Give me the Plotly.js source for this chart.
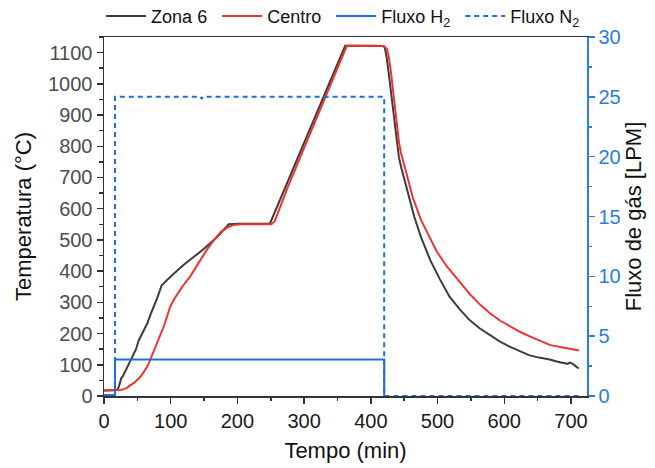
<!DOCTYPE html>
<html>
<head>
<meta charset="utf-8">
<script src="https://cdn.plot.ly/plotly-3.0.1.min.js"></script>
<style>html,body{margin:0;padding:0;background:#fff;}#chart{width:655px;height:468px;}</style>
</head>
<body>
<div id="chart"></div>
<script>
// Zona 6 (time in min, temperature in °C)
var zonaT = [0, 10, 20, 22, 24, 26, 28, 31, 34, 37, 40, 44, 48, 52, 56, 60, 65, 70, 75, 80, 86.5, 100, 120, 149, 170, 187, 200, 220, 248, 249.5, 274, 300, 330, 361.5, 380, 400, 419, 421, 424, 427, 430, 433, 436, 439, 442, 446, 452, 458, 465, 475, 489, 503, 518, 533, 548, 563, 578, 593, 608, 623, 637, 652, 668, 680, 690, 695, 698, 702, 705, 711.5];
var zonaV = [18, 18, 19, 28, 40, 58, 62, 75, 92, 102, 118, 130, 150, 178, 195, 215, 233, 262, 286, 315, 355, 383, 421, 470, 510, 550, 552, 552, 552, 556, 680, 811, 963, 1122, 1122, 1122, 1121, 1115, 1080, 1030, 975, 915, 855, 800, 765, 728, 677, 625, 575, 510, 435, 376, 318, 278, 243, 217, 195, 175, 158, 144, 131, 123, 117, 110, 104, 103, 107, 104, 99, 88];

// Centro
var centroT = [0, 10, 20, 25, 30, 35, 39, 45, 50, 54, 60, 65, 69, 75, 80, 84, 90, 95, 99, 105, 110, 114, 120, 129, 140, 154, 165, 175, 185, 195, 205, 230, 251, 256, 274, 300, 330, 364, 400, 419, 424, 427, 430, 433, 436, 439, 442, 445, 449, 455, 463, 475, 488, 499, 514, 534, 549, 564, 579, 594, 609, 624, 639, 654, 669, 684, 698, 712];
var centroV = [17.5, 17.5, 18, 19, 22, 27, 34, 42, 52, 60, 78, 95, 114, 145, 170, 189, 225, 258, 285, 310, 328, 339, 358, 382, 420, 468, 500, 525, 540, 548, 550, 550, 550, 560, 661, 795, 950, 1122, 1122, 1121, 1112, 1085, 1040, 985, 925, 865, 815, 780, 745, 700, 635, 565, 509, 462, 415, 365, 325, 292, 264, 241, 222, 205, 190, 176, 163, 157, 152, 146];

// Fluxo H2 (LPM)
var h2T = [0, 16.5, 16.5, 420, 420];
var h2V = [0.08, 0.08, 3.05, 3.05, 0];

// Fluxo N2 (LPM)
var n2T = [0, 16.5, 16.5, 145, 146.5, 148, 420, 420, 712];
var n2V = [0, 0, 25, 25, 24.8, 25, 25, 0, 0];

var blue = '#1e6fdc';
var axisBlue = '#2a7de1';
var dark = '#333333';
var nb = '\u00a0';

var traces = [
  {x: zonaT, y: zonaV, type: 'scatter', mode: 'lines', name: 'Zona 6' + nb,
   line: {color: '#3c3c3c', width: 2}},
  {x: centroT, y: centroV, type: 'scatter', mode: 'lines', name: 'Centro' + nb,
   line: {color: '#ee3333', width: 2}},
  {x: h2T, y: h2V, type: 'scatter', mode: 'lines', name: 'Fluxo H<sub>2</sub>' + nb, yaxis: 'y2',
   line: {color: blue, width: 2}},
  {x: n2T, y: n2V, type: 'scatter', mode: 'lines', name: 'Fluxo N<sub>2</sub>', yaxis: 'y2',
   line: {color: blue, width: 2, dash: '5px,4px'}}
];

var layout = {
  width: 655, height: 468,
  margin: {l: 104, r: 68, t: 37, b: 72, autoexpand: false},
  paper_bgcolor: '#ffffff', plot_bgcolor: '#ffffff',
  font: {family: 'Liberation Sans, Arial, sans-serif', color: '#111'},
  showlegend: true,
  legend: {orientation: 'h', x: -0.006, xanchor: 'left', y: 1.058, yanchor: 'middle',
           font: {size: 18, color: '#111'}, bgcolor: 'rgba(0,0,0,0)', itemwidth: 40, tracegroupgap: 0},
  xaxis: {
    range: [0, 724], dtick: 100, tick0: 0,
    ticks: 'outside', ticklen: 6, tickwidth: 1.5, tickcolor: dark,
    showline: true, linecolor: dark, linewidth: 1.5, mirror: true,
    showgrid: false, zeroline: false,
    minor: {ticks: 'outside', dtick: 50, ticklen: 3.5, tickwidth: 1.5, tickcolor: dark},
    tickfont: {size: 20, color: '#1a1a1a'},
    title: {text: 'Tempo (min)', font: {size: 22, color: '#111'}, standoff: 12}
  },
  yaxis: {
    range: [0, 1150], dtick: 100, tick0: 0,
    ticks: 'outside', ticklen: 6, tickwidth: 1.5, tickcolor: dark,
    showline: true, linecolor: dark, linewidth: 1.5,
    showgrid: false, zeroline: false,
    minor: {ticks: 'outside', dtick: 50, ticklen: 3.5, tickwidth: 1.5, tickcolor: dark},
    tickfont: {size: 20, color: '#4d4d4d'},
    title: {text: 'Temperatura (°C)', font: {size: 22, color: '#111'}, standoff: 10}
  },
  yaxis2: {
    overlaying: 'y', side: 'right',
    range: [0, 30], dtick: 5, tick0: 0,
    ticks: 'outside', ticklen: 6, tickwidth: 1.5, tickcolor: axisBlue,
    showline: true, linecolor: axisBlue, linewidth: 1.5,
    showgrid: false, zeroline: false,
    minor: {ticks: 'outside', dtick: 2.5, ticklen: 3.5, tickwidth: 1.5, tickcolor: axisBlue},
    tickfont: {size: 20, color: axisBlue},
    title: {text: 'Fluxo de gás [LPM]', font: {size: 22, color: '#111'}, standoff: 6}
  }
};

Plotly.newPlot('chart', traces, layout, {displayModeBar: false, staticPlot: true});
</script>
</body>
</html>
